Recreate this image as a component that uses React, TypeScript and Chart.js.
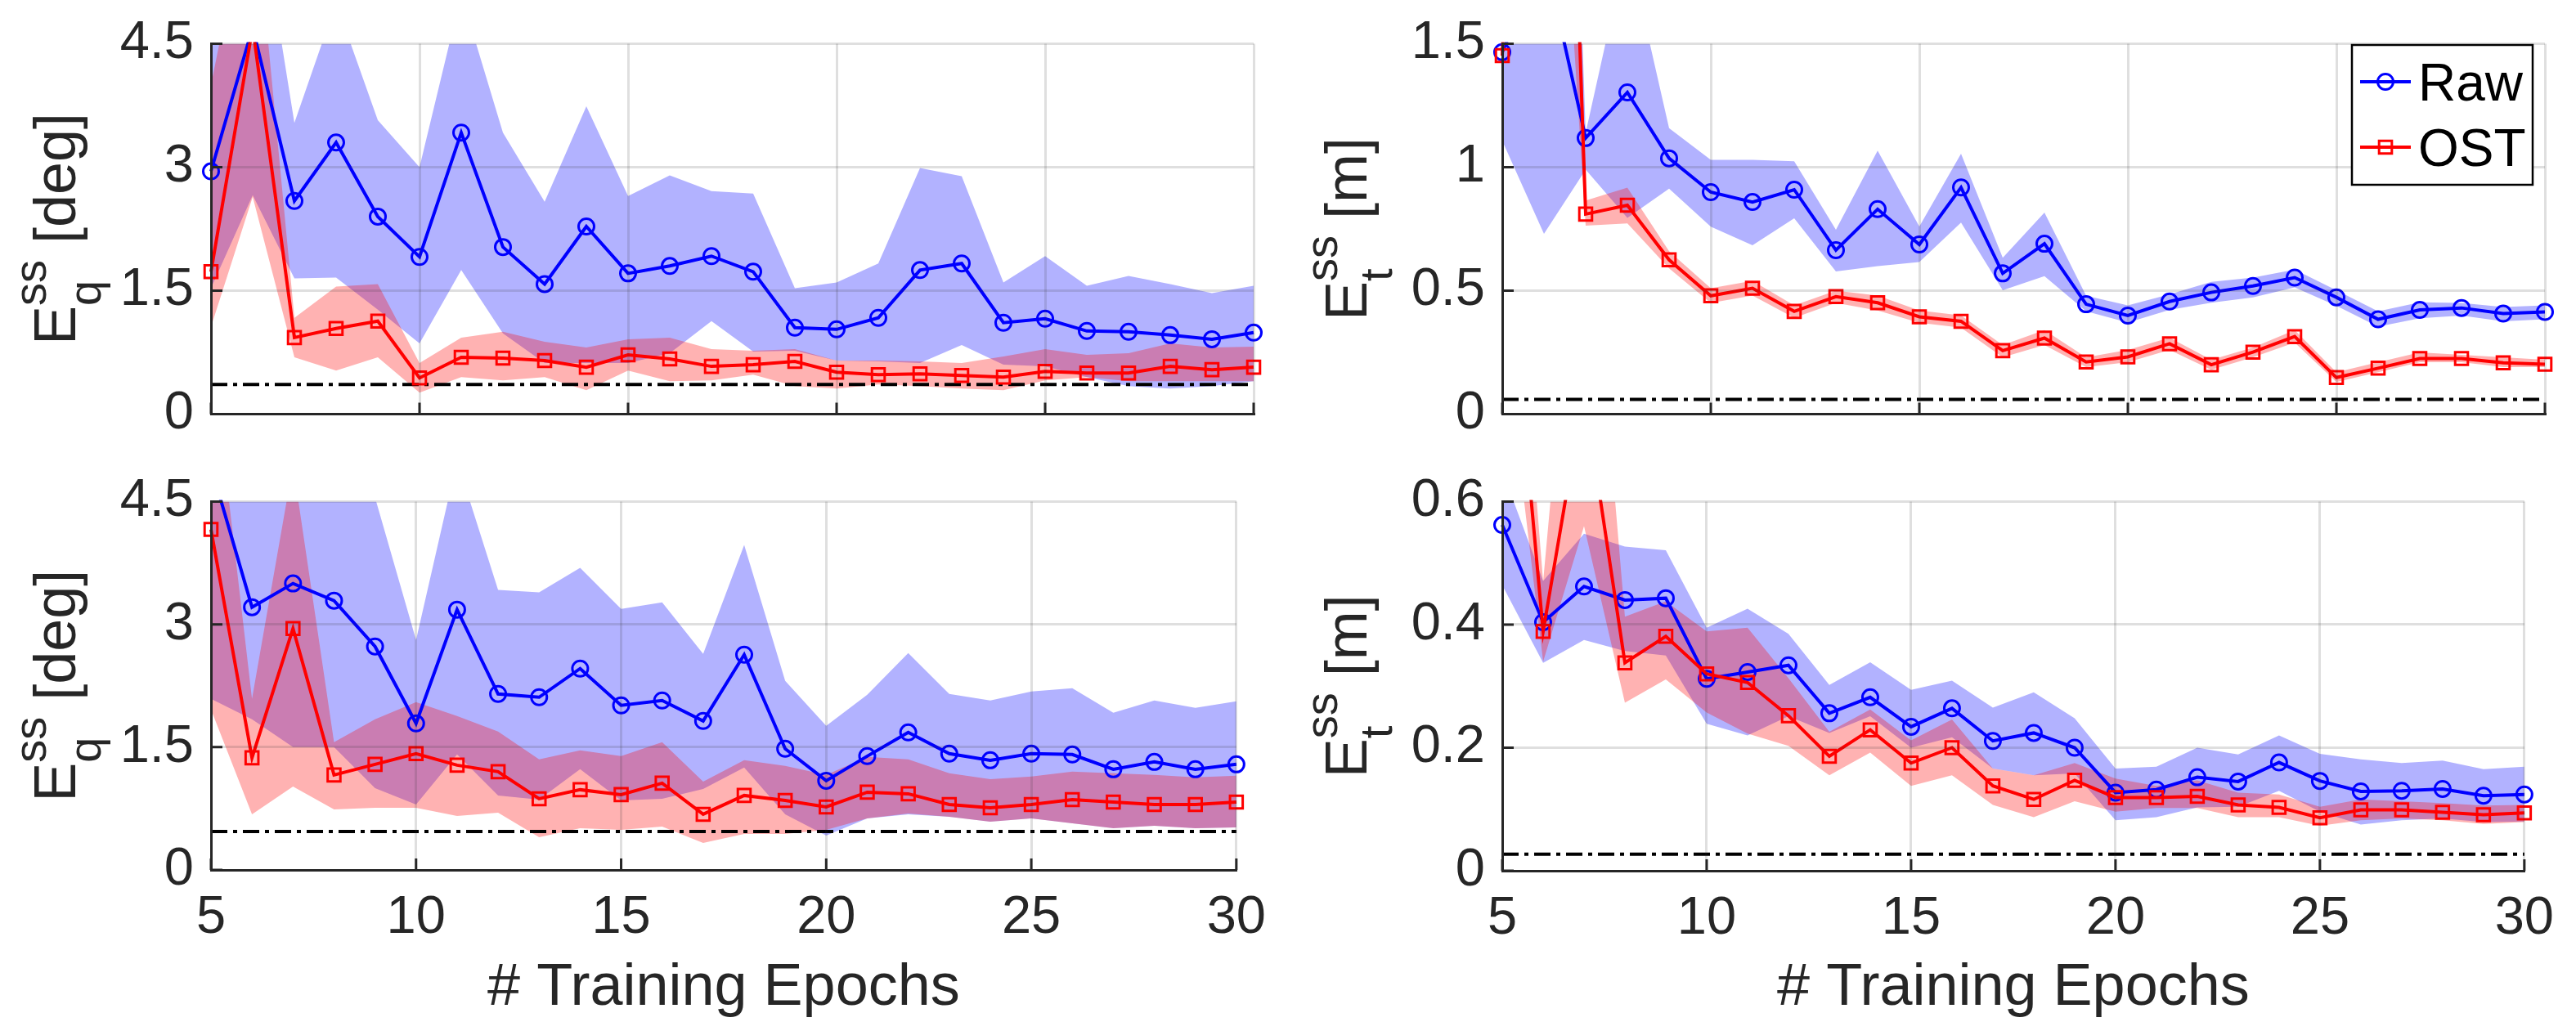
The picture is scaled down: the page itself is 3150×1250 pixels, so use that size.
import React, { useEffect, useRef } from "react";
import { Chart, registerables } from "chart.js";
Chart.register(...registerables);

// ---------------- data ----------------
const epochs = [5, 6, 7, 8, 9, 10, 11, 12, 13, 14, 15, 16, 17, 18, 19, 20, 21, 22, 23, 24, 25, 26, 27, 28, 29, 30];
const xTicks = [5, 10, 15, 20, 25, 30];
const xTitle = "# Training Epochs";
const legendLabels = ["Raw", "OST"];

const yTicksDeg = [0, 1.5, 3, 4.5];
const yLabelsDeg = ["0", "1.5", "3", "4.5"];
const yTicksTopM = [0, 0.5, 1, 1.5];
const yLabelsTopM = ["0", "0.5", "1", "1.5"];
const yTicksBotM = [0, 0.2, 0.4, 0.6];
const yLabelsBotM = ["0", "0.2", "0.4", "0.6"];

// top-left: rotation error
const rawMeanTL = [2.95, 4.7, 2.59, 3.30, 2.40, 1.91, 3.42, 2.03, 1.58, 2.28, 1.71, 1.80, 1.92, 1.73, 1.05, 1.03, 1.17, 1.75, 1.83, 1.11, 1.16, 1.01, 1.00, 0.96, 0.91, 0.99];
const rawUpTL = [6.5, 6.7, 3.54, 5.0, 3.57, 3.0, 5.1, 3.42, 2.58, 3.74, 2.65, 2.90, 2.71, 2.68, 1.53, 1.60, 1.83, 2.99, 2.89, 1.60, 1.92, 1.56, 1.68, 1.58, 1.47, 1.56];
const rawLoTL = [1.53, 2.66, 1.65, 1.66, 1.27, 0.86, 1.75, 0.98, 0.62, 0.62, 0.62, 0.74, 1.13, 0.76, 0.77, 0.65, 0.64, 0.62, 0.84, 0.60, 0.58, 0.45, 0.34, 0.31, 0.34, 0.40];
const ostMeanTL = [1.73, 4.7, 0.93, 1.04, 1.13, 0.44, 0.69, 0.68, 0.65, 0.57, 0.72, 0.67, 0.58, 0.60, 0.64, 0.51, 0.48, 0.49, 0.47, 0.45, 0.52, 0.50, 0.50, 0.58, 0.54, 0.57];
const ostUpTL = [4.0, 6.5, 1.17, 1.55, 1.58, 0.62, 0.93, 1.00, 0.88, 0.81, 0.91, 0.93, 0.79, 0.77, 0.79, 0.65, 0.65, 0.64, 0.62, 0.70, 0.79, 0.72, 0.74, 0.86, 0.81, 0.82];
const ostLoTL = [1.06, 2.64, 0.69, 0.53, 0.69, 0.26, 0.45, 0.41, 0.45, 0.29, 0.53, 0.40, 0.41, 0.48, 0.34, 0.31, 0.36, 0.34, 0.31, 0.29, 0.41, 0.45, 0.40, 0.40, 0.40, 0.40];
const refTL = 0.36;

// top-right: translation error
const rawMeanTR = [1.466, 1.87, 1.118, 1.303, 1.036, 0.899, 0.859, 0.909, 0.664, 0.830, 0.687, 0.918, 0.570, 0.690, 0.445, 0.399, 0.456, 0.493, 0.519, 0.553, 0.473, 0.384, 0.422, 0.430, 0.407, 0.414];
const rawUpTR = [2.2, 6.0, 1.14, 1.9, 1.158, 1.03, 1.03, 1.024, 0.747, 1.067, 0.76, 1.055, 0.633, 0.816, 0.479, 0.44, 0.485, 0.536, 0.553, 0.585, 0.502, 0.416, 0.453, 0.45, 0.434, 0.44];
const rawLoTR = [1.107, 0.73, 0.99, 0.795, 0.913, 0.759, 0.684, 0.793, 0.578, 0.599, 0.616, 0.776, 0.502, 0.559, 0.416, 0.371, 0.422, 0.451, 0.473, 0.513, 0.439, 0.354, 0.388, 0.399, 0.376, 0.384];
const ostMeanTR = [1.452, 5.7, 0.81, 0.846, 0.625, 0.479, 0.51, 0.416, 0.476, 0.451, 0.394, 0.376, 0.257, 0.308, 0.211, 0.232, 0.285, 0.20, 0.251, 0.314, 0.148, 0.186, 0.225, 0.225, 0.208, 0.202];
const ostUpTR = [1.48, 8.0, 0.865, 0.917, 0.66, 0.51, 0.54, 0.44, 0.50, 0.48, 0.42, 0.40, 0.28, 0.34, 0.23, 0.26, 0.31, 0.22, 0.27, 0.34, 0.17, 0.21, 0.25, 0.24, 0.23, 0.22];
const ostLoTR = [1.42, 3.4, 0.763, 0.772, 0.59, 0.45, 0.48, 0.39, 0.45, 0.42, 0.37, 0.35, 0.23, 0.28, 0.19, 0.21, 0.26, 0.18, 0.23, 0.29, 0.13, 0.17, 0.21, 0.21, 0.19, 0.19];
const refTR = 0.06;

// bottom-left: rotation error
const rawMeanBL = [4.93, 3.21, 3.50, 3.29, 2.73, 1.79, 3.18, 2.15, 2.11, 2.46, 2.01, 2.07, 1.82, 2.63, 1.48, 1.09, 1.39, 1.68, 1.42, 1.34, 1.42, 1.41, 1.23, 1.32, 1.23, 1.29];
const rawUpBL = [6.0, 6.0, 6.0, 5.5, 4.55, 2.81, 5.0, 3.42, 3.39, 3.69, 3.19, 3.27, 2.64, 3.97, 2.31, 1.76, 2.14, 2.65, 2.15, 2.07, 2.18, 2.22, 1.92, 2.07, 1.98, 2.06];
const rawLoBL = [2.09, 1.84, 1.5, 1.5, 1.0, 0.80, 1.41, 0.91, 0.86, 1.23, 0.85, 0.87, 0.99, 1.25, 0.68, 0.42, 0.63, 0.68, 0.65, 0.59, 0.63, 0.57, 0.51, 0.54, 0.51, 0.52];
const ostMeanBL = [4.16, 1.37, 2.95, 1.16, 1.29, 1.42, 1.28, 1.20, 0.87, 0.98, 0.92, 1.06, 0.68, 0.91, 0.85, 0.77, 0.95, 0.93, 0.80, 0.76, 0.80, 0.86, 0.83, 0.80, 0.80, 0.83];
const ostUpBL = [6.4, 2.09, 4.95, 1.56, 1.84, 2.05, 1.88, 1.69, 1.35, 1.46, 1.39, 1.56, 1.08, 1.34, 1.27, 1.16, 1.38, 1.35, 1.18, 1.11, 1.14, 1.20, 1.18, 1.16, 1.13, 1.15];
const ostLoBL = [1.96, 0.68, 1.02, 0.74, 0.76, 0.76, 0.66, 0.70, 0.40, 0.51, 0.49, 0.53, 0.33, 0.44, 0.44, 0.49, 0.63, 0.69, 0.65, 0.59, 0.63, 0.57, 0.51, 0.54, 0.51, 0.52];
const refBL = 0.47;

// bottom-right: translation error
const rawMeanBR = [0.562, 0.404, 0.462, 0.44, 0.443, 0.312, 0.323, 0.334, 0.256, 0.282, 0.234, 0.264, 0.211, 0.224, 0.200, 0.127, 0.132, 0.152, 0.145, 0.176, 0.146, 0.129, 0.130, 0.133, 0.122, 0.124];
const rawUpBR = [0.65, 0.471, 0.548, 0.527, 0.521, 0.395, 0.426, 0.385, 0.302, 0.339, 0.294, 0.309, 0.265, 0.290, 0.248, 0.166, 0.169, 0.200, 0.189, 0.220, 0.190, 0.181, 0.175, 0.179, 0.165, 0.169];
const rawLoBR = [0.464, 0.338, 0.375, 0.357, 0.35, 0.239, 0.220, 0.251, 0.224, 0.251, 0.20, 0.217, 0.166, 0.155, 0.158, 0.082, 0.087, 0.103, 0.104, 0.130, 0.096, 0.075, 0.082, 0.085, 0.079, 0.080];
const ostMeanBR = [1.12, 0.389, 0.78, 0.338, 0.381, 0.32, 0.306, 0.252, 0.186, 0.229, 0.175, 0.20, 0.138, 0.116, 0.147, 0.119, 0.119, 0.121, 0.107, 0.103, 0.086, 0.099, 0.099, 0.095, 0.091, 0.094];
const ostUpBR = [1.3, 0.47, 1.2, 0.413, 0.438, 0.389, 0.395, 0.313, 0.226, 0.262, 0.212, 0.246, 0.166, 0.155, 0.175, 0.150, 0.138, 0.147, 0.127, 0.124, 0.104, 0.116, 0.113, 0.110, 0.106, 0.107];
const ostLoBR = [0.9, 0.34, 0.56, 0.273, 0.311, 0.257, 0.223, 0.203, 0.155, 0.192, 0.138, 0.155, 0.107, 0.087, 0.113, 0.096, 0.102, 0.102, 0.087, 0.087, 0.073, 0.082, 0.085, 0.082, 0.076, 0.079];
const refBR = 0.027;

// ---------------- styling ----------------
const FONT = "'Liberation Sans', Arial, Helvetica, sans-serif";
const AXIS = "#262626";
const BLUE = "#0000ff";
const RED = "#ff0000";
const BLUE_BAND = "rgba(0,0,255,0.3)";
const RED_BAND = "rgba(255,0,0,0.3)";
const GRID = "rgba(38,38,38,0.15)";

type YTitle = { main: string; sup: string; sub: string; unit: string };

type PanelProps = {
  left: number; top: number; width: number; height: number;
  padTop: number; padRight: number; padBottom: number;
  yAxisW: number; xAxisH: number;
  yMax: number; yTicks: number[]; yLabels: string[];
  showX: boolean; title: YTitle; legend?: boolean;
  rawMean: number[]; rawUp: number[]; rawLo: number[];
  ostMean: number[]; ostUp: number[]; ostLo: number[];
  refVal: number;
};

const xy = (arr: number[]) => arr.map((v, i) => ({ x: epochs[i], y: v }));

function Panel(p: PanelProps) {
  const ref = useRef<HTMLCanvasElement | null>(null);
  useEffect(() => {
    if (!ref.current) return;
    const clip = { left: 20, right: 20, top: 2, bottom: 10 } as any;
    const band = (data: number[], fill: any, color: string, order: number) => ({
      data: xy(data), borderWidth: 0, borderColor: "rgba(0,0,0,0)", pointRadius: 0,
      backgroundColor: color, fill, order, tension: 0,
    });
    const ticksPlugin = {
      id: "inTicks",
      afterDraw(chart: any) {
        const { ctx, chartArea: a, scales } = chart;
        ctx.save();
        ctx.strokeStyle = AXIS;
        ctx.lineWidth = 3;
        ctx.beginPath();
        for (const v of xTicks) {
          const px = scales.x.getPixelForValue(v);
          ctx.moveTo(px, a.bottom);
          ctx.lineTo(px, a.bottom - 14);
        }
        for (const v of p.yTicks) {
          const py = scales.y.getPixelForValue(v);
          ctx.moveTo(a.left, py);
          ctx.lineTo(a.left + 14, py);
        }
        ctx.stroke();
        ctx.restore();
      },
    };
    const yTitlePlugin = {
      id: "yTitle",
      afterDraw(chart: any) {
        const { ctx, chartArea: a } = chart;
        const t = p.title;
        ctx.save();
        ctx.translate(a.left - 166, (a.top + a.bottom) / 2);
        ctx.rotate(-Math.PI / 2);
        ctx.fillStyle = AXIS;
        ctx.textAlign = "left";
        ctx.textBaseline = "alphabetic";
        const mainF = `72px ${FONT}`;
        const smallF = `56px ${FONT}`;
        ctx.font = mainF;
        const wE = ctx.measureText(t.main).width;
        const wU = ctx.measureText(t.unit).width;
        ctx.font = smallF;
        const wS = Math.max(ctx.measureText(t.sup).width, ctx.measureText(t.sub).width);
        let u = -(wE + wS + wU) / 2;
        ctx.font = mainF;
        ctx.fillText(t.main, u, 0);
        u += wE;
        ctx.font = smallF;
        ctx.fillText(t.sup, u, -36);
        ctx.fillText(t.sub, u, 31);
        u += wS;
        ctx.font = mainF;
        ctx.fillText(t.unit, u, 0);
        ctx.restore();
      },
    };
    const legendPlugin = {
      id: "legendBox",
      afterDraw(chart: any) {
        if (!p.legend) return;
        const { ctx, chartArea: a } = chart;
        const bx = a.right - 236, by = 55, bw = 221, bh = 171;
        ctx.save();
        ctx.fillStyle = "#ffffff";
        ctx.fillRect(bx, by, bw, bh);
        ctx.strokeStyle = "#000000";
        ctx.lineWidth = 2.5;
        ctx.strokeRect(bx, by, bw, bh);
        const rows = [
          { y: by + 45, color: BLUE, shape: "circle", label: legendLabels[0] },
          { y: by + 125, color: RED, shape: "rect", label: legendLabels[1] },
        ];
        for (const r of rows) {
          ctx.strokeStyle = r.color;
          ctx.lineWidth = 4;
          ctx.beginPath();
          ctx.moveTo(bx + 10, r.y);
          ctx.lineTo(bx + 72, r.y);
          ctx.stroke();
          ctx.lineWidth = 3;
          ctx.beginPath();
          const cx = bx + 41;
          if (r.shape === "circle") {
            ctx.arc(cx, r.y, 9.5, 0, Math.PI * 2);
          } else {
            ctx.rect(cx - 7.8, r.y - 7.8, 15.6, 15.6);
          }
          ctx.stroke();
          ctx.fillStyle = "#000000";
          ctx.font = `64px ${FONT}`;
          ctx.textAlign = "left";
          ctx.textBaseline = "alphabetic";
          ctx.fillText(r.label, bx + 81, r.y + 23);
        }
        ctx.restore();
      },
    };

    const chart = new Chart(ref.current, {
      type: "line",
      data: {
        datasets: [
          {
            label: legendLabels[1], data: xy(p.ostMean), borderColor: RED, borderWidth: 4,
            pointStyle: "rect", pointRadius: 11, pointBorderWidth: 3, pointBorderColor: RED,
            pointBackgroundColor: "rgba(0,0,0,0)", fill: false, order: 0, tension: 0, clip,
          },
          {
            label: legendLabels[0], data: xy(p.rawMean), borderColor: BLUE, borderWidth: 4,
            pointStyle: "circle", pointRadius: 9.5, pointBorderWidth: 3, pointBorderColor: BLUE,
            pointBackgroundColor: "rgba(0,0,0,0)", fill: false, order: 1, tension: 0, clip,
          },
          {
            label: "ref", data: [{ x: epochs[0], y: p.refVal }, { x: epochs[epochs.length - 1], y: p.refVal }],
            borderColor: "#000000", borderWidth: 4, borderDash: [20, 7, 5, 7], pointRadius: 0,
            fill: false, order: 2, clip,
          },
          band(p.ostLo, false, RED_BAND, 3),
          band(p.ostUp, 3, RED_BAND, 3),
          band(p.rawLo, false, BLUE_BAND, 4),
          band(p.rawUp, 5, BLUE_BAND, 4),
        ] as any,
      },
      options: {
        animation: false,
        responsive: false,
        events: [],
        layout: { padding: { left: 0, top: p.padTop, right: p.padRight, bottom: p.padBottom } },
        plugins: { legend: { display: false }, tooltip: { enabled: false } },
        scales: {
          x: {
            type: "linear", min: 5, max: 30,
            afterBuildTicks: (s: any) => { s.ticks = xTicks.map((v) => ({ value: v })); },
            afterFit: (s: any) => { s.height = p.xAxisH; },
            ticks: {
              display: p.showX, color: AXIS, padding: 27, maxRotation: 0, minRotation: 0, autoSkip: false,
              font: { family: FONT, size: 65, lineHeight: 1 },
            },
            title: {
              display: p.showX, text: xTitle, color: AXIS,
              font: { family: FONT, size: 72, lineHeight: 1 }, padding: { top: 0, bottom: 5 },
            },
            grid: { color: GRID, lineWidth: 3, drawTicks: false, z: 1 },
            border: { display: true, color: AXIS, width: 3, z: 2 },
          },
          y: {
            type: "linear", min: 0, max: p.yMax,
            afterBuildTicks: (s: any) => { s.ticks = p.yTicks.map((v) => ({ value: v })); },
            afterFit: (s: any) => { s.width = p.yAxisW; },
            ticks: {
              color: AXIS, padding: 21, font: { family: FONT, size: 65, lineHeight: 1 },
              callback: (_v: any, i: number) => p.yLabels[i],
            },
            grid: { color: GRID, lineWidth: 3, drawTicks: false, z: 1 },
            border: { display: true, color: AXIS, width: 3, z: 2 },
          },
        },
      } as any,
      plugins: [ticksPlugin, yTitlePlugin, legendPlugin],
    });
    return () => chart.destroy();
  }, []);
  return (
    <canvas
      ref={ref}
      width={p.width}
      height={p.height}
      style={{ position: "absolute", left: p.left, top: p.top, width: p.width, height: p.height }}
    />
  );
}

const titleDeg: YTitle = { main: "E", sup: "ss", sub: "q", unit: " [deg]" };
const titleM: YTitle = { main: "E", sup: "ss", sub: "t", unit: " [m]" };

export default function App() {
  useEffect(() => {
    document.body.style.margin = "0";
    document.body.style.background = "#ffffff";
  }, []);
  return (
    <div style={{ position: "relative", width: 3150, height: 1250, background: "#ffffff", overflow: "hidden" }}>
      <Panel left={0} top={0} width={1575} height={560} padTop={39} padRight={42} padBottom={53}
        yAxisW={258} xAxisH={0} yMax={4.5} yTicks={yTicksDeg} yLabels={yLabelsDeg} showX={false}
        title={titleDeg} rawMean={rawMeanTL} rawUp={rawUpTL} rawLo={rawLoTL}
        ostMean={ostMeanTL} ostUp={ostUpTL} ostLo={ostLoTL} refVal={refTL} />
      <Panel left={1575} top={0} width={1575} height={560} padTop={40} padRight={38} padBottom={52}
        yAxisW={262} xAxisH={0} yMax={1.5} yTicks={yTicksTopM} yLabels={yLabelsTopM} showX={false}
        title={titleM} legend rawMean={rawMeanTR} rawUp={rawUpTR} rawLo={rawLoTR}
        ostMean={ostMeanTR} ostUp={ostUpTR} ostLo={ostLoTR} refVal={refTR} />
      <Panel left={0} top={560} width={1575} height={690} padTop={35} padRight={42} padBottom={0}
        yAxisW={258} xAxisH={186} yMax={4.5} yTicks={yTicksDeg} yLabels={yLabelsDeg} showX={true}
        title={titleDeg} rawMean={rawMeanBL} rawUp={rawUpBL} rawLo={rawLoBL}
        ostMean={ostMeanBL} ostUp={ostUpBL} ostLo={ostLoBL} refVal={refBL} />
      <Panel left={1575} top={560} width={1575} height={690} padTop={36} padRight={38} padBottom={0}
        yAxisW={262} xAxisH={185} yMax={0.6} yTicks={yTicksBotM} yLabels={yLabelsBotM} showX={true}
        title={titleM} rawMean={rawMeanBR} rawUp={rawUpBR} rawLo={rawLoBR}
        ostMean={ostMeanBR} ostUp={ostUpBR} ostLo={ostLoBR} refVal={refBR} />
    </div>
  );
}
